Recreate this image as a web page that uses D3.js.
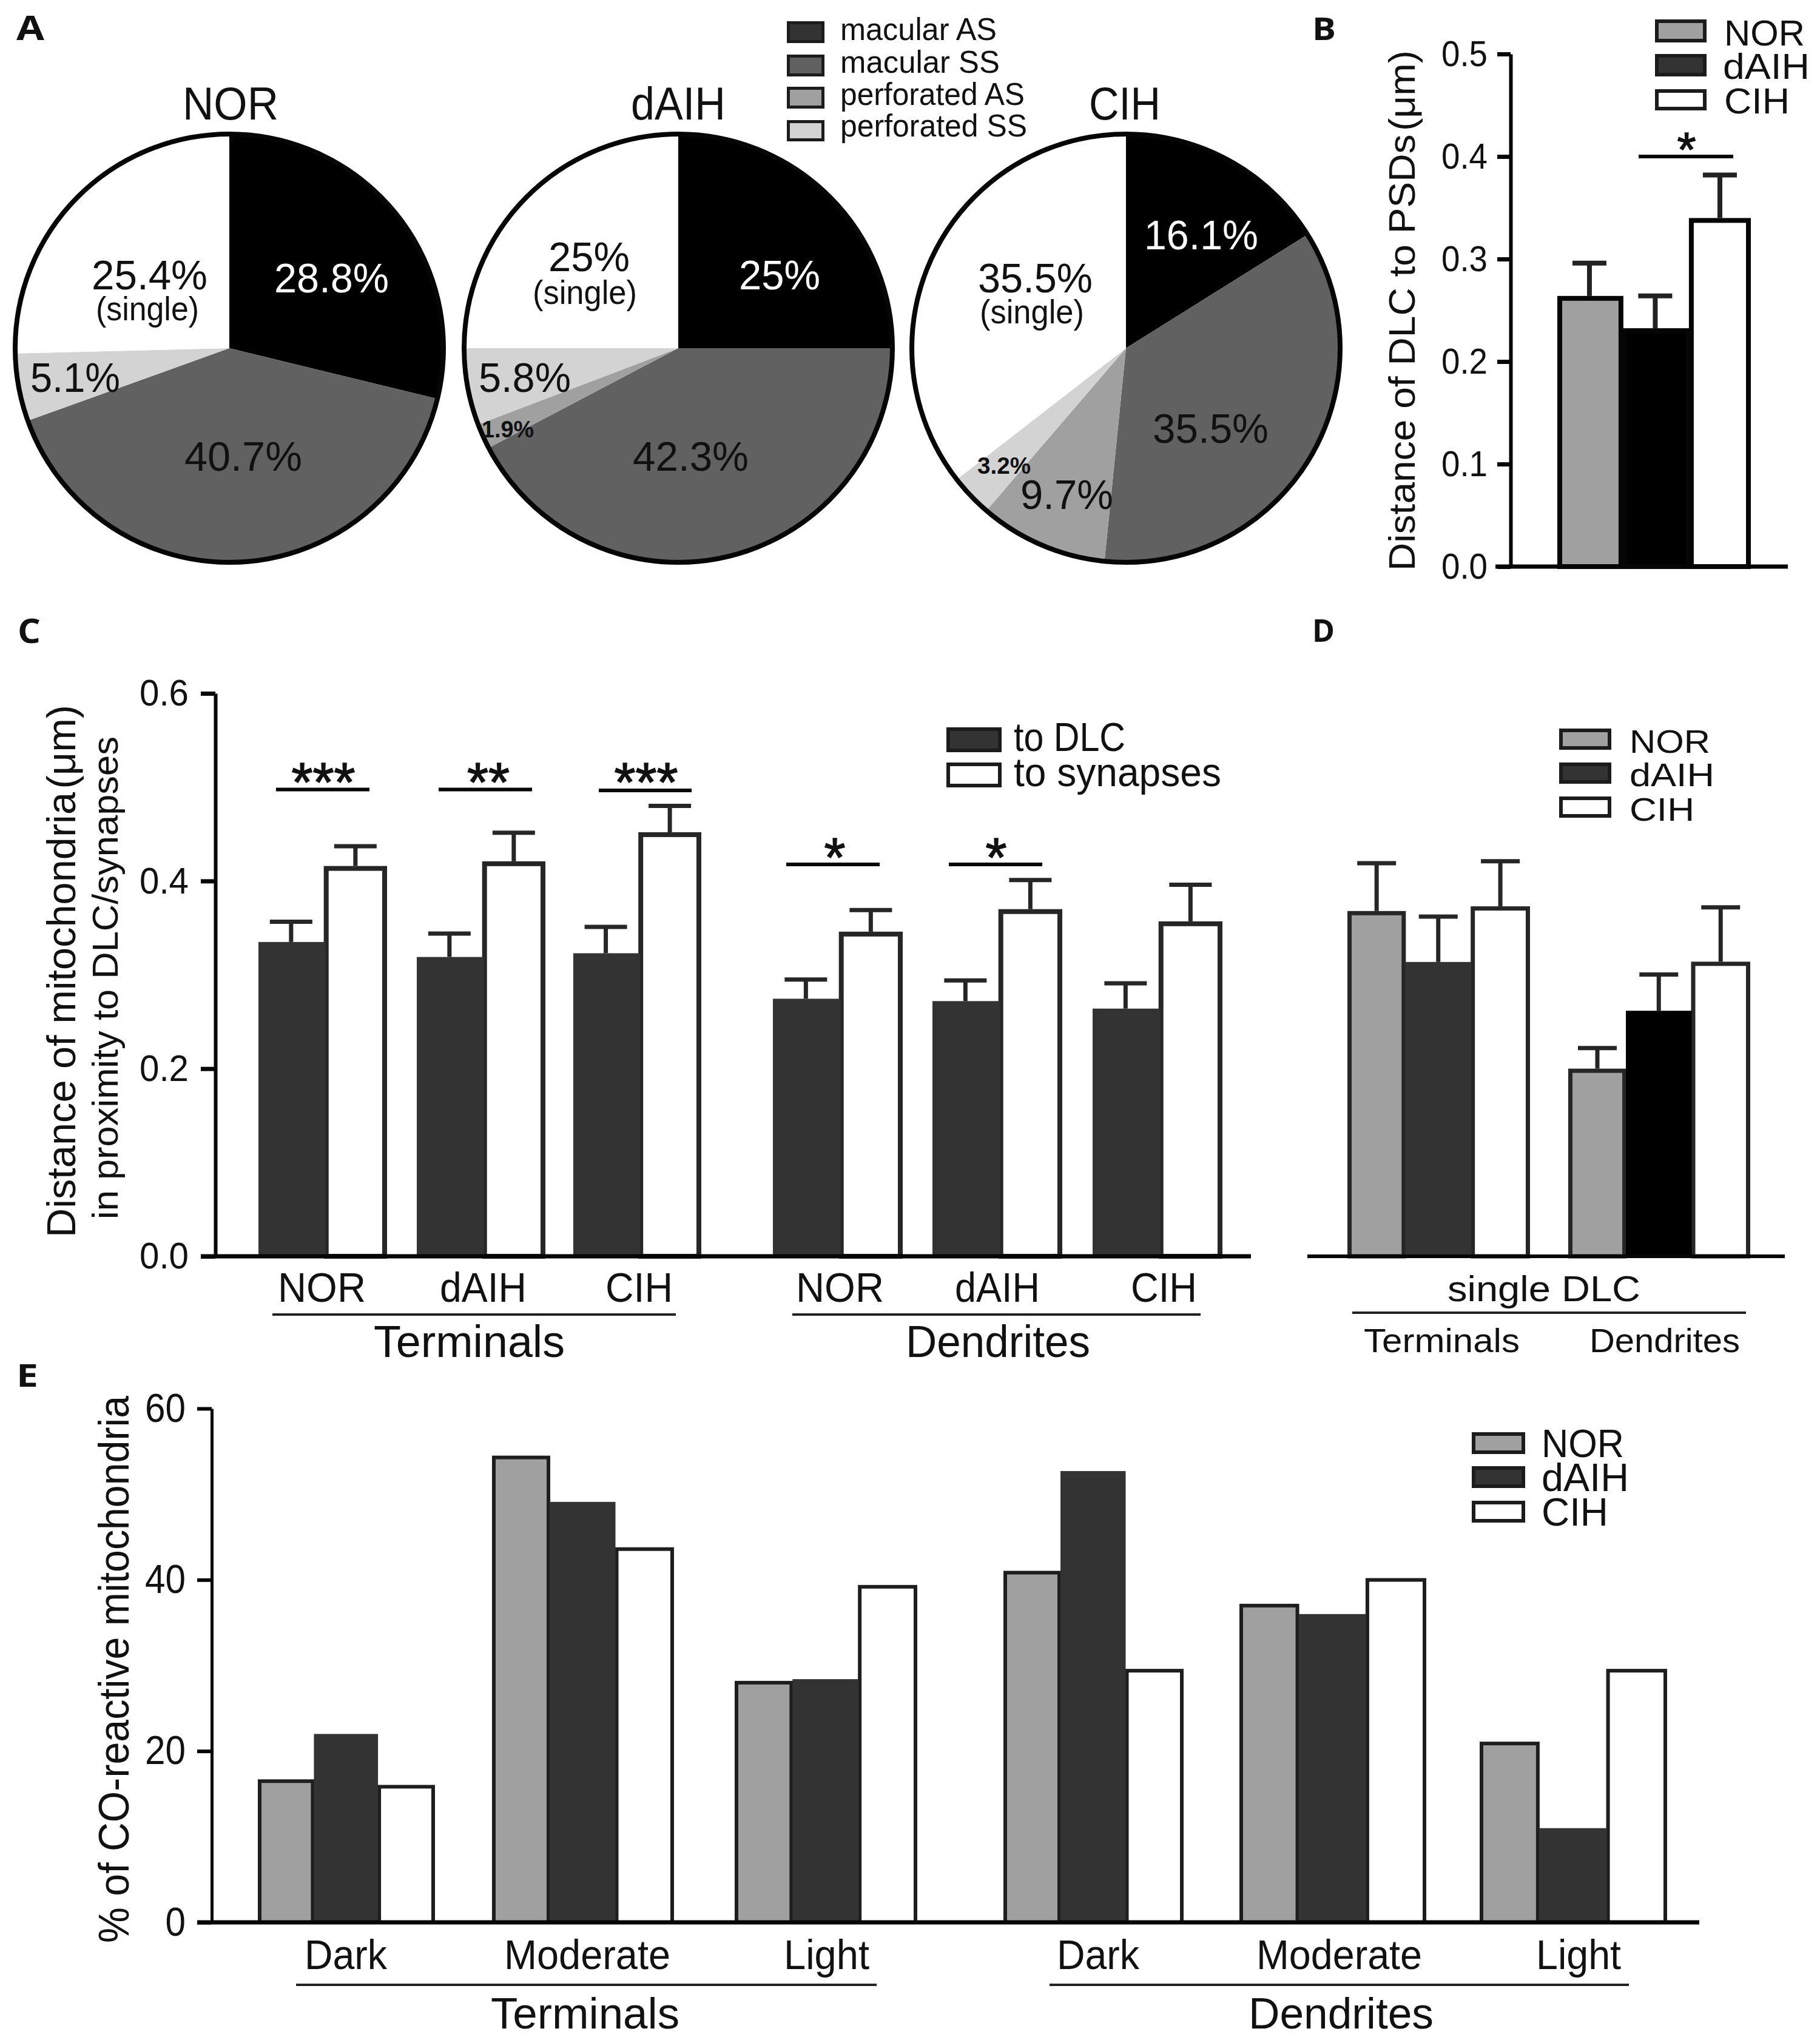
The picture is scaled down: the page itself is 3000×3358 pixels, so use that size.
<!DOCTYPE html>
<html><head><meta charset="utf-8">
<script src="https://cdn.jsdelivr.net/npm/d3@7/dist/d3.min.js"></script>
<style>html,body{margin:0;padding:0;background:#fff}svg{display:block}
text{font-family:"Liberation Sans",Arial,sans-serif;fill:#111}</style>
</head><body><svg id="c" width="3000" height="3358" viewBox="0 0 3000 3358"></svg>
<script>
// ---------- data ----------
const pieSegments = ["macular AS","macular SS","perforated AS","perforated SS","single"];
const pieNOR  = [28.8,40.7,0,5.1,25.4];
const pieDAIH = [25,42.3,1.9,5.8,25];
const pieCIH  = [16.1,35.5,9.7,3.2,35.5];
const pieNames = ["NOR","dAIH","CIH"];

const groups = ["NOR","dAIH","CIH"];
const bValues = [0.264,0.2325,0.34];
const bErrTop = [0.296,0.264,0.382];
const bTicks = [0,0.1,0.2,0.3,0.4,0.5];

const cSeries = ["to DLC","to synapses"];
const cDLC = [0.335,0.319,0.323,0.2745,0.272,0.264];
const cSyn = [0.416,0.421,0.452,0.346,0.370,0.357];
const cDLCErrTop = [0.3566,0.344,0.351,0.295,0.294,0.291];
const cSynErrTop = [0.437,0.4515,0.48,0.369,0.401,0.396];
const cTicks = [0,0.2,0.4,0.6];
const cSigLevel = [0.4976,0.4976,0.4965,0.4176,0.4176];
const cSigMarks = ["***","**","***","*","*"];

const dBlocks = ["Terminals","Dendrites"];
const dTerminals = [0.368,0.3137,0.373];
const dDendrites = [0.2,0.2617,0.314];
const dTerminalsErr = [0.419,0.362,0.421];
const dDendritesErr = [0.222,0.3003,0.372];

const eCats = ["Dark","Moderate","Light"];
const eTermNOR = [16.7,54.5,28.2];
const eTermDAIH = [22,49.1,28.4];
const eTermCIH = [16.05,43.8,39.4];
const eDendNOR = [41.05,37.2,21.1];
const eDendDAIH = [52.7,36,11];
const eDendCIH = [29.6,40.2,29.6];
const eTicks = [0,20,40,60];

// ---------- helpers ----------
const svg = d3.select("#c");
svg.append("rect").attr("width",3000).attr("height",3358).attr("fill","#fff");
const INK="#1c1c1c", BLK="#060606", GRAY="#a0a0a0", DARK="#333333", WHITE="#ffffff";

function T(str,x0,x1,base,size,o={}){
  const t=svg.append("text").text(str).attr("x",x0).attr("y",base+2).attr("font-size",size)
    .attr("textLength",x1-x0).attr("lengthAdjust","spacingAndGlyphs");
  if(o.fill) t.style("fill",o.fill);
  if(o.bold) t.attr("font-weight",o.bold===1?"700":o.bold);
  if(o.family) t.style("font-family",o.family);
  return t;
}
function V(str,xBase,yBottom,yTop,size){
  svg.append("text").text(str).attr("transform",`translate(${xBase},${yBottom}) rotate(-90)`)
    .attr("font-size",size).attr("textLength",yBottom-yTop).attr("lengthAdjust","spacingAndGlyphs");
}
function line(x1,x2,y1,y2,w,c=BLK){
  svg.append("line").attr("x1",x1).attr("x2",x2).attr("y1",y1).attr("y2",y2)
    .attr("stroke",c).attr("stroke-width",w);
}
function swatch(x0,x1,y0,y1,fill,sw=6,c=INK){
  svg.append("rect").attr("x",x0+sw/2).attr("y",y0+sw/2).attr("width",x1-x0-sw).attr("height",y1-y0-sw)
    .attr("fill",fill).attr("stroke",c).attr("stroke-width",sw);
}
function bar(x0,x1,top,base,fill,sw,c){
  const s=sw/2;
  svg.append("rect").attr("x",x0+s).attr("y",top+s).attr("width",x1-x0-sw).attr("height",base-top-s)
    .attr("fill",fill).attr("stroke",c).attr("stroke-width",sw);
}
function err(cx,yFrom,yTo,cap,w,c){
  line(cx,cx,yFrom,yTo,w,c);
  line(cx-cap/2,cx+cap/2,yTo,yTo,w,c);
}
function yAxis(x,scale,ticks,fmt,size,tick,pad,w,charW){
  const g=svg.append("g").attr("transform",`translate(${x},0)`)
    .call(d3.axisLeft(scale).tickValues(ticks).tickFormat(fmt).tickSize(tick).tickSizeOuter(0).tickPadding(pad));
  g.selectAll("path").attr("stroke",BLK).attr("stroke-width",w);
  g.selectAll("line").attr("stroke",BLK).attr("stroke-width",w+1);
  g.selectAll("text").attr("font-size",size)
    .attr("textLength",function(){ const s=this.textContent; return charW*(s.replace(".","").length+(s.includes(".")?0.5:0)); })
    .attr("lengthAdjust","spacingAndGlyphs")
    .style("font-family",'"Liberation Sans"').style("fill","#111");
}
// a band scale whose bands have the reference's unequal widths: edges are fractions of the group span
function spanScale(domain,fracs){
  const start=d3.scaleOrdinal().domain(domain).range(fracs.slice(0,-1));
  const end=d3.scaleOrdinal().domain(domain).range(fracs.slice(1));
  const at=d3.scaleLinear().domain([0,1]);
  return (name,span)=>{ at.range(span); return [at(start(name)),at(end(name))]; };
}

// ---------- panel letters ----------
const letterFont='"Open Sans",sans-serif';
T("A",27,73,64,56,{bold:700,family:letterFont});
T("B",2163,2202,64,52,{bold:700,family:letterFont});
T("C",29,67,1058,56,{bold:700,family:letterFont});
T("D",2163,2200,1056,52,{bold:700,family:letterFont});
T("E",27,63,2284,52,{bold:700,family:letterFont});

// ---------- A: pies ----------
const pieColors=d3.scaleOrdinal().domain(pieSegments).range(["#000000","#616161","#a0a0a0","#d3d3d3","#ffffff"]);
const pieGen=d3.pie().sort(null);
const arcGen=d3.arc().innerRadius(0).outerRadius(353);
[[pieNOR,378],[pieDAIH,1118],[pieCIH,1856]].forEach(([vals,cx])=>{
  const g=svg.append("g").attr("transform",`translate(${cx},574)`);
  g.selectAll("path").data(pieGen(vals)).join("path").attr("d",arcGen)
    .attr("fill",(d,i)=>pieColors(pieSegments[i]));
  g.append("circle").attr("r",353).attr("fill","none").attr("stroke",BLK).attr("stroke-width",8);
});
T(pieNames[0],301,459,195,76);
T(pieNames[1],1040,1196,195,76);
T(pieNames[2],1795,1913,195,76);
const pct=v=>v+"%";
const PL=69, PS=56, PB=38;
T(pct(pieNOR[0]),452,641,480,PL,{fill:"#fff"});
T(pct(pieNOR[1]),304,498,774,PL);
T(pct(pieNOR[3]),50,198,644,PL);
T(pct(pieNOR[4]),151,342,475,PL);
T("(single)",158,328,526,PS);
T(pct(pieDAIH[0]),1218,1352,475,PL,{fill:"#fff"});
T(pct(pieDAIH[1]),1043,1234,774,PL);
T(pct(pieDAIH[2]),794,880,719,PB,{bold:1});
T(pct(pieDAIH[3]),789,941,644,PL);
T(pct(pieDAIH[4]),904,1038,445,PL);
T("(single)",878,1050,499,PS);
T(pct(pieCIH[0]),1886,2074,409,PL,{fill:"#fff"});
T(pct(pieCIH[1]),1900,2091,728,PL);
T(pct(pieCIH[2]),1682,1835,837,PL);
T(pct(pieCIH[3]),1611,1699,779,PB,{bold:1});
T(pct(pieCIH[4]),1612,1801,480,PL);
T("(single)",1615,1787,531,PS);
// legend A
swatch(1297,1359,35,71,"#333",5);
swatch(1297,1359,90,126,"#616161",5);
swatch(1297,1359,143,179,"#a0a0a0",5);
swatch(1297,1359,198,233,"#d3d3d3",5);
T(pieSegments[0],1385,1643,64,52);
T(pieSegments[1],1385,1648,118,52);
T(pieSegments[2],1385,1689,171,52);
T(pieSegments[3],1385,1693,223,52);

// ---------- B ----------
const yB=d3.scaleLinear().domain([0,0.5]).range([934,89]);
const xB=spanScale(groups,[0,0.332,0.68,1]);
const spanB=[2567,2886];
const bFill=[GRAY,"#000",WHITE];
bValues.forEach((v,i)=>{
  const [a,b]=xB(groups[i],spanB);
  err((a+b)/2,yB(v),yB(bErrTop[i]),56,8,"#222");
});
bValues.forEach((v,i)=>{ const [a,b]=xB(groups[i],spanB); bar(a,b+(i<2?3:0),yB(v),yB(0),bFill[i],8,BLK); });
yAxis(2490,yB,bTicks,d3.format(".1f"),60,22,16,6,30.4);
line(2465,2947,yB(0),yB(0),7);
line(2701,2857,yB(0.4),yB(0.4),6);
svg.append("text").text("*").attr("x",2780).attr("y",274).attr("font-size",80).attr("text-anchor","middle").attr("stroke","#111").attr("stroke-width",1.5);
V("Distance of DLC to PSDs\u200A(μm)",2332,941,83,61);
swatch(2728,2813,32,70,GRAY,6);
swatch(2728,2813,89,126,DARK,6);
swatch(2728,2813,147,182,WHITE,6);
T(groups[0],2842,2975,73,60);
T(groups[1],2840,2983,128,60);
T(groups[2],2842,2950,185,60);

// ---------- C ----------
const yC=d3.scaleLinear().domain([0,0.6]).range([2071,1143]);
const xC=spanScale(cSeries,[0,0.508,1]);
const spansC=[[426,638],[687,899],[945,1156],[1274,1488],[1537,1751],[1801,2015]];
spansC.forEach((span,k)=>{
  const [a0,a1]=xC(cSeries[0],span), [b0,b1]=xC(cSeries[1],span);
  err((a0+a1)/2,yC(cDLC[k]),yC(cDLCErrTop[k]),70,7,"#262626");
  err((b0+b1)/2,yC(cSyn[k]),yC(cSynErrTop[k]),70,7,"#262626");
  bar(b0,b1,yC(cSyn[k]),yC(0),WHITE,8,"#262626");
  bar(a0,a1+3,yC(cDLC[k]),yC(0),DARK,0,"none");
});
yAxis(355,yC,cTicks,d3.format(".1f"),62,24,20,6,32.4);
line(331,2062,yC(0),yC(0),7);
[[455,609,533],[723,877,805],[987,1140,1065],[1296,1450,1376],[1564,1718,1642]].forEach(([a,b,c],i)=>{
  line(a,b,yC(cSigLevel[i]),yC(cSigLevel[i]),6);
  svg.append("text").text(cSigMarks[i]).attr("x",c).attr("y",i<3?1321:1445).attr("font-size",90).attr("text-anchor","middle").attr("stroke","#111").attr("stroke-width",1.5);
});
V("Distance of mitochondria\u200A(μm)",124,2040,1162,66);
V("in proximity to DLC/synapses",194,2010,1214,60);
swatch(1560,1651,1199,1240,DARK,6);
swatch(1560,1651,1257,1298,WHITE,6);
T(cSeries[0],1671,1855,1236,66);
T(cSeries[1],1671,2013,1294,66);
[[458,603],[725,868],[998,1109],[1312,1457],[1574,1714],[1864,1973]].forEach(([a,b],i)=>T(groups[i%3],a,b,2144,68));
line(449,1114,2167,2167,4,"#222");
line(1306,1979,2167,2167,4,"#222");
T(dBlocks[0],616,931,2235,74);
T(dBlocks[1],1493,1797,2235,74);

// ---------- D ----------
const xD=spanScale(groups,[0,0.32,0.675,1]);
[[dTerminals,dTerminalsErr,DARK,[2221,2522]],[dDendrites,dDendritesErr,"#000",[2585,2885]]].forEach(([vals,errs,mid,span])=>{
  groups.forEach((g,i)=>{
    const [a,b]=xD(g,span);
    err((a+b)/2,yC(vals[i]),yC(errs[i]),64,7,"#262626");
  });
  const [c0,c1]=xD(groups[2],span), [n0,n1]=xD(groups[0],span), [m0,m1]=xD(groups[1],span);
  bar(c0,c1,yC(vals[2]),yC(0),WHITE,7,"#262626");
  bar(n0,n1,yC(vals[0]),yC(0),GRAY,7,"#262626");
  bar(m0-1,m1+1,yC(vals[1]),yC(0),mid,0,"none");
});
line(2155,2942,yC(0),yC(0),6);
swatch(2570,2656,1201,1236,GRAY,6);
swatch(2570,2656,1257,1292,DARK,6);
swatch(2570,2656,1313,1348,WHITE,6);
T(groups[0],2686,2819,1239,53);
T(groups[1],2686,2826,1294,53);
T(groups[2],2686,2793,1351,53);
T("single DLC",2386,2704,2143,60);
line(2229,2878,2164,2164,4,"#222");
T(dBlocks[0],2248,2505,2227,55);
T(dBlocks[1],2620,2868,2227,55);

// ---------- E ----------
const yE=d3.scaleLinear().domain([0,60]).range([3169,2322]);
const xE=spanScale(groups,[0,0.32,0.675,1]);
[[eTermNOR,eTermDAIH,eTermCIH,[[425,717],[811,1111],[1211,1512]]],
 [eDendNOR,eDendDAIH,eDendCIH,[[1654,1951],[2043,2351],[2439,2748]]]].forEach(([a,b,c,spans])=>{
  eCats.forEach((cat,i)=>{
    const [c0,c1]=xE(groups[2],spans[i]), [n0,n1]=xE(groups[0],spans[i]), [m0,m1]=xE(groups[1],spans[i]);
    bar(c0,c1,yE(c[i]),yE(0),WHITE,6,"#1e1e1e");
    bar(n0,n1,yE(a[i]),yE(0),GRAY,6,"#1e1e1e");
    bar(m0-1,m1+1,yE(b[i]),yE(0),DARK,0,"none");
  });
});
yAxis(349,yE,eTicks,d3.format("d"),66,24,19,5,33.5);
line(325,2801,yE(0),yE(0),7);
V("% of CO-reactive mitochondria",212,3203,2301,70);
[[502,638],[831,1105],[1292,1433],[1742,1878],[2071,2344],[2532,2672]].forEach(([a,b],i)=>T(eCats[i%3],a,b,3244,68));
line(488,1445,3272,3272,4,"#222");
line(1730,2685,3272,3272,4,"#222");
T(dBlocks[0],809,1120,3342,72);
T(dBlocks[1],2058,2363,3342,72);
swatch(2426,2514,2361,2397,GRAY,6);
swatch(2426,2514,2417,2453,DARK,6);
swatch(2426,2514,2474,2510,WHITE,6);
T(groups[0],2541,2677,2400,64);
T(groups[1],2541,2685,2456,64);
T(groups[2],2541,2651,2513,64);
</script></body></html>
